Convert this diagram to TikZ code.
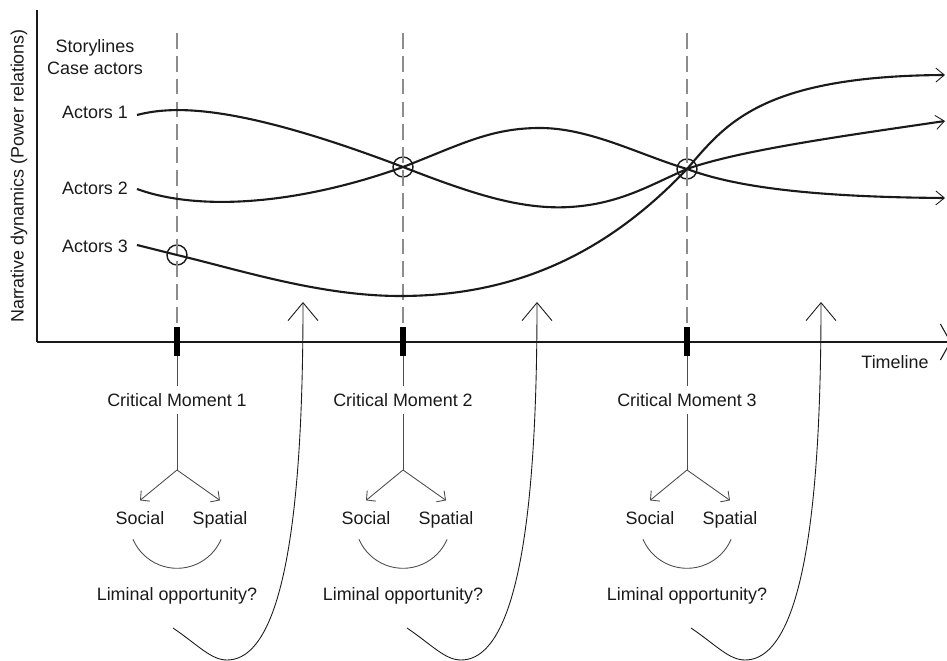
\documentclass[tikz,border=0pt]{standalone}
\usepackage{fontspec}
\setmainfont{Liberation Sans}
\usepackage{tikz}
\usetikzlibrary{arrows.meta,positioning,calc}
\definecolor{ink}{HTML}{1A1A1A}
\definecolor{guidegray}{HTML}{8C8C8C}
\definecolor{stemgray}{HTML}{4D4D4D}

\begin{document}
\begin{tikzpicture}[x=0.02cm, y=-0.02cm, every node/.style={font=\fontsize{10.2}{12.5}\selectfont, text=ink}, lbl/.style={inner sep=4pt}, pair/.style={inner sep=4pt, text depth=.25em}, tickbar/.style={fill=black, minimum width=0.12cm, minimum height=0.58cm, inner sep=0}, ring/.style={circle, draw=ink, line width=.8pt, minimum size=0.4cm, inner sep=0}, story/.style={line width=1.2pt, draw=ink, -{Straight Barb[length=1.7mm,width=2.8mm,line width=.5pt]}}, guide/.style={draw=guidegray, line width=.6pt, dash pattern=on 9pt off 4pt}, stem/.style={draw=stemgray, line width=.5pt}, fork/.style={stem, -{Straight Barb[length=1.3mm,width=2.7mm]}}, swoop/.style={draw=ink, line width=.5pt, -{Straight Barb[length=3.6mm,width=6mm]}}]
\useasboundingbox (0,0) rectangle (947,661);
% axes
\coordinate (o) at (37,342);
\coordinate (top) at (37,10);
\coordinate (xend) at (951,342);
\draw[line width=.8pt, draw=ink] (top) -- (o);
\draw[line width=.8pt, draw=ink, -{Straight Barb[length=2mm,width=7.2mm,line width=.6pt]}] (o) -- (xend);
\node[rotate=90] (yl) at (19,176) {Narrative dynamics (Power relations)};
\node (tl) at (895,362) {Timeline};
\node[align=center] (sl) at (95,57) {Storylines\\Case actors};
% actors
\node[anchor=east, inner sep=1pt] (n1) at (130,112) {Actors 1};
\node[anchor=east, inner sep=1pt] (n2) at (130,188) {Actors 2};
\node[anchor=east, inner sep=1pt] (n3) at (130,246) {Actors 3};
\coordinate (s1) at (137,115);
\coordinate (s2) at (137,189);
\coordinate (s3) at (137,245);
\node[ring] (c1) at (177,255) {};
\node[ring] (c2) at (403,167) {};
\node[ring] (c3) at (687,169) {};
% critical moments
\foreach \n/\x/\s in {1/177/173,2/403/407,3/687/691}{
  \node[tickbar] (t\n) at (\x,341.5) {};
  \coordinate (d\n) at (\x,33);
  \draw[guide] (d\n) -- (t\n.north);
  \node[lbl] (m\n) at (\x,400) {Critical Moment \n};
  \coordinate (b\n) at (\x,470);
  \node[pair] (so\n) at (\x-37,520) {Social};
  \node[pair] (sp\n) at (\x+43,520) {Spatial};
  \node[lbl] (li\n) at (\x,596) {Liminal opportunity?};
  \draw[stem] (t\n.south) -- (m\n.north) (m\n.south) -- (b\n);
  \draw[fork] (b\n) -- ([yshift=2]so\n.north);
  \draw[fork] (b\n) -- ([yshift=2]sp\n.north);
  \draw[stem] ($(so\n.south)+(-7,3.3)$) arc[start angle=156.6,end angle=23.4,radius=48];
  \coordinate (lo\n) at (\s,628);
  \coordinate (up\n) at (\s+130,302);
  \draw[swoop] (lo\n) .. controls (\s+25,645) and (\s+38,660) .. (\s+54,660) .. controls (\s+120,660) and (\s+130,460) .. (up\n);
}
% storylines
\coordinate (e1) at (945,121);
\coordinate (e2) at (945,198);
\coordinate (e3) at (945,75);
\draw[story] (s1) .. controls (175,105) and (240,105) .. (c2.center) .. controls (470,193) and (520,210) .. (570,207) .. controls (620,204) and (650,185) .. (c3.center) .. controls (740,150) and (850,135) .. (e1);
\draw[story] (s2) .. controls (200,212) and (300,204) .. (c2.center) .. controls (460,145) and (490,128) .. (540,128) .. controls (590,128) and (640,155) .. (c3.center) .. controls (730,185) and (800,197) .. (e2);
\draw[story] (s3) .. controls (150,248.3) and (163,251.5) .. (c1.center) .. controls (240,270) and (320,296) .. (400,296) .. controls (520,296) and (610,250) .. (c3.center) .. controls (725,125) and (760,76) .. (e3);
\end{tikzpicture}
\end{document}
